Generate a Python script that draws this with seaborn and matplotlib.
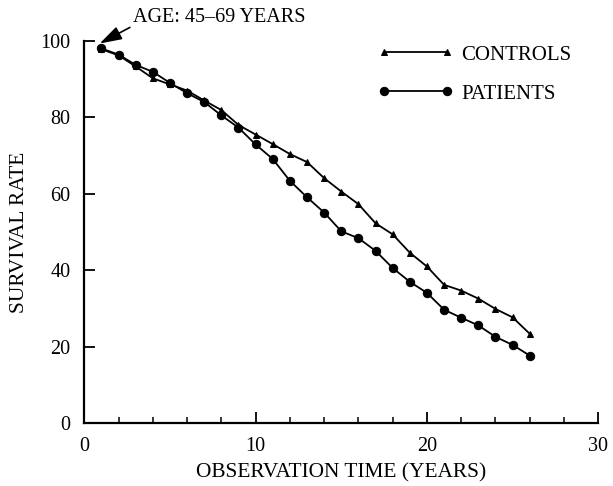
import numpy as np
import pandas as pd
import matplotlib
matplotlib.use('Agg')
import matplotlib.pyplot as plt
import seaborn as sns

# survival rate vs observation time
years = list(range(1, 27))
controls = [97.8, 96.2, 93.3, 90.2, 88.6, 87.0, 84.4, 81.9, 78.0, 75.5,
            73.0, 70.4, 68.3, 64.1, 60.6, 57.3, 52.3, 49.4, 44.6, 41.0,
            36.2, 34.7, 32.6, 29.9, 27.7, 23.4]
patients = [98.0, 96.4, 93.7, 91.9, 89.0, 86.3, 84.0, 80.5, 77.3, 72.9,
            69.1, 63.4, 59.1, 55.1, 50.2, 48.4, 45.1, 40.6, 37.0, 34.1,
            29.7, 27.6, 25.6, 22.6, 20.5, 17.7]
annotation = 'AGE: 45\u201369 YEARS'

sns.set_style('ticks')
plt.rcParams['font.family'] = ['Liberation Serif', 'DejaVu Serif']
plt.rcParams['text.color'] = 'black'
plt.rcParams['axes.labelcolor'] = 'black'

df = pd.DataFrame({'time': years * 2,
                   'rate': controls + patients,
                   'group': ['CONTROLS'] * len(years) + ['PATIENTS'] * len(years)})

fig = plt.figure(figsize=(6.13, 4.86), dpi=100)
ax = fig.add_axes([0.1375, 0.129, 0.8385, 0.787])

sns.lineplot(data=df[df.group == 'CONTROLS'], x='time', y='rate', ax=ax,
             color='black', lw=1.3, marker='^', markersize=5,
             markeredgecolor='black', label='CONTROLS', clip_on=False)
sns.lineplot(data=df[df.group == 'PATIENTS'], x='time', y='rate', ax=ax,
             color='black', lw=1.3, marker='o', markersize=6,
             markeredgecolor='black', label='PATIENTS', clip_on=False)

ax.set_xlim(0, 30)
ax.set_ylim(0, 100)
ax.set_xticks([0, 10, 20, 30])
ax.set_xticks(np.arange(0, 31, 2), minor=True)
ax.set_yticks([0, 20, 40, 60, 80, 100])
ax.tick_params(axis='both', which='major', direction='in', length=8, width=1.3,
               labelsize=14.5, pad=10, color='black', labelcolor='black')
ax.tick_params(axis='x', which='minor', direction='in', length=4, width=1.3)
ax.set_xlabel('OBSERVATION TIME (YEARS)', fontsize=15.4, labelpad=5)
ax.set_ylabel('SURVIVAL RATE', fontsize=15.4, labelpad=8)
for s in ['top', 'right']:
    ax.spines[s].set_visible(False)
for s in ['left', 'bottom']:
    ax.spines[s].set_linewidth(1.6)
    ax.spines[s].set_color('black')

ax.legend(loc='upper left', bbox_to_anchor=(0.571, 0.989), frameon=False,
          fontsize=15, handlelength=3.62, numpoints=2, labelspacing=0.93,
          handletextpad=0.37, borderpad=0, borderaxespad=0)

ax.annotate(annotation, xy=(0.9, 99.3), xytext=(2.85, 106.2),
            fontsize=14.5, va='center', ha='left', annotation_clip=False,
            arrowprops=dict(arrowstyle='-|>,head_length=0.9,head_width=0.28',
                            color='black', lw=1.2, mutation_scale=15,
                            shrinkA=0, shrinkB=0, relpos=(-0.01, 0.0)))

fig.savefig('out.png', dpi=100)
